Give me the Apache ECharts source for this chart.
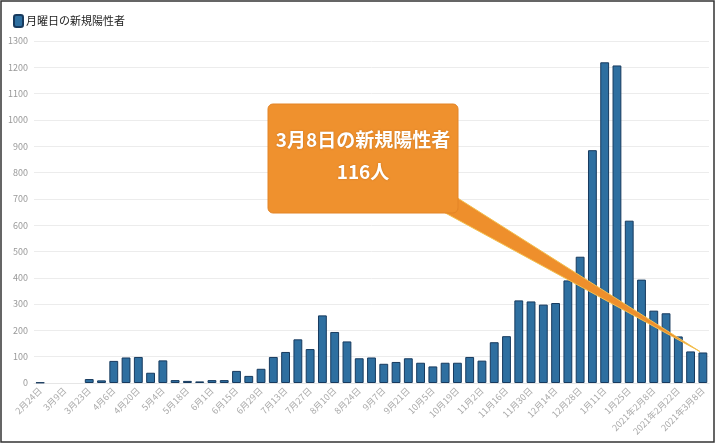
<!DOCTYPE html>
<html>
<head>
<meta charset="utf-8">
<script src="https://cdn.jsdelivr.net/npm/echarts@6/dist/echarts.min.js"></script>
<style>
  html, body { margin: 0; padding: 0; background: #fff; }
  #chart { width: 720px; height: 444px; }
</style>
</head>
<body>
<div id="chart"></div>
<script>
// Mondays, 2020-02-24 .. 2021-03-08
const dateLabels = [
  '2月24日', '3月2日', '3月9日', '3月16日', '3月23日', '3月30日', '4月6日', '4月13日',
  '4月20日', '4月27日', '5月4日', '5月11日', '5月18日', '5月25日', '6月1日', '6月8日',
  '6月15日', '6月22日', '6月29日', '7月6日', '7月13日', '7月20日', '7月27日', '8月3日',
  '8月10日', '8月17日', '8月24日', '8月31日', '9月7日', '9月14日', '9月21日', '9月28日',
  '10月5日', '10月12日', '10月19日', '10月26日', '11月2日', '11月9日', '11月16日', '11月23日',
  '11月30日', '12月7日', '12月14日', '12月21日', '12月28日', '1月4日', '1月11日', '1月18日',
  '1月25日', '2021年2月1日', '2021年2月8日', '2021年2月15日', '2021年2月22日', '2021年3月1日', '2021年3月8日'
];

const newCases = [
  2, 0, 0, 0, 15, 10, 84, 97,
  99, 39, 86, 11, 8, 6, 11, 11,
  46, 27, 54, 99, 118, 166, 129, 257,
  194, 158, 94, 97, 73, 80, 94, 77,
  63, 77, 77, 99, 85, 155, 178, 314,
  310, 298, 304, 390, 480, 885, 1219, 1207,
  617, 393, 275, 265, 177, 120, 116
];

const seriesName = '月曜日の新規陽性者';
const calloutLines = ['3月8日の新規陽性者', '116人'];
const calloutIndex = 54;

const FONT = '"Noto Sans CJK JP", "Noto Sans", sans-serif';

const chart = echarts.init(document.getElementById('chart'), null, { renderer: 'canvas' });

// zero weeks get no outline, so nothing is drawn for them
const barData = newCases.map(v => v === 0 ? { value: v, itemStyle: { borderWidth: 0 } } : v);

chart.setOption({
  backgroundColor: '#ffffff',
  animation: false,
  textStyle: { fontFamily: FONT },
  legend: {
    left: 8,
    top: 9,
    icon: 'roundRect',
    itemWidth: 9,
    itemHeight: 12,
    itemGap: 4,
    textStyle: { color: '#222', fontSize: 11, fontFamily: FONT, padding: [0, 0, 0, -2] },
    data: [seriesName]
  },
  grid: { left: 34, right: 11, top: 41, bottom: 61 },
  xAxis: {
    type: 'category',
    data: dateLabels,
    axisLine: { lineStyle: { color: '#e6e6e6' } },
    axisTick: { show: false },
    axisLabel: {
      interval: 1,
      rotate: 45,
      color: '#aaa',
      fontSize: 9,
      margin: 6,
      fontFamily: FONT
    }
  },
  yAxis: {
    type: 'value',
    min: 0,
    max: 1300,
    interval: 100,
    axisLine: { show: false },
    axisTick: { show: false },
    axisLabel: { color: '#999', fontSize: 9, margin: 6, fontFamily: FONT, formatter: v => String(v) },
    splitLine: { lineStyle: { color: '#ececec' } }
  },
  series: [{
    name: seriesName,
    type: 'bar',
    data: barData,
    barWidth: '72%',
    itemStyle: {
      color: '#2e6fa0',
      borderColor: '#173a5e',
      borderWidth: 1
    }
  }]
});

// Callout pointing at the last bar
const tip = chart.convertToPixel({ seriesIndex: 0 }, [calloutIndex, newCases[calloutIndex]]);
const box = { x: 268, y: 104, w: 190, h: 109 };
const calloutText = {
  fill: '#fff', font: 'bold 19px ' + FONT,
  textAlign: 'center', textVerticalAlign: 'middle',
  textShadowColor: 'rgba(120,60,0,0.35)', textShadowBlur: 2
};

chart.setOption({
  graphic: [
    {
      type: 'polygon',
      z: 100,
      shape: { points: [[box.x + box.w - 20, box.y + box.h - 4], [box.x + box.w - 2, box.y + box.h - 16], [tip[0] - 3, tip[1] - 1]] },
      style: { fill: '#ee8f2c', stroke: '#f3c04f', lineWidth: 1 }
    },
    {
      type: 'rect',
      z: 101,
      shape: { x: box.x, y: box.y, width: box.w, height: box.h, r: 5 },
      style: { fill: '#ef912e', stroke: '#e38426', lineWidth: 1 }
    },
    {
      type: 'text', z: 102, x: box.x + box.w / 2, y: 140,
      style: Object.assign({ text: calloutLines[0] }, calloutText)
    },
    {
      type: 'text', z: 102, x: box.x + box.w / 2, y: 172,
      style: Object.assign({ text: calloutLines[1] }, calloutText)
    },
    {
      // photo frame around the chart
      type: 'rect',
      z: 110,
      shape: { x: 1, y: 1, width: 713, height: 441 },
      style: { fill: 'none', stroke: '#333', lineWidth: 1.5 }
    }
  ]
});
</script>
</body>
</html>
